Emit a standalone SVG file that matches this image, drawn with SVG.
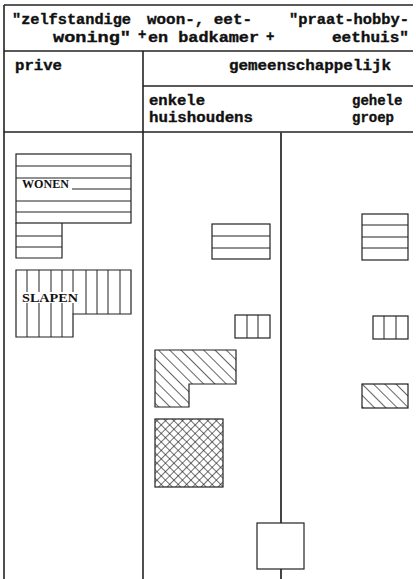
<svg xmlns="http://www.w3.org/2000/svg" width="416" height="579" viewBox="0 0 416 579">
<style>
.t{font-family:"Liberation Mono","DejaVu Sans Mono",monospace;font-weight:bold;font-size:14px;fill:#111;stroke:#111;stroke-width:0.35}
.s{font-family:"Liberation Serif","Times New Roman",serif;font-weight:bold;font-size:11.5px;fill:#111}
.f{stroke:#222;stroke-width:1.6;fill:none}
.m{stroke:#444;stroke-width:2;fill:none}
.b{stroke:#222;stroke-width:1.2;fill:none}
.l{stroke:#222;stroke-width:1;fill:none}
</style>
<defs>
<pattern id="diag" patternUnits="userSpaceOnUse" width="8" height="8" patternTransform="rotate(-45)">
<line x1="0" y1="0" x2="0" y2="8" stroke="#111" stroke-width="1.3"/>
</pattern>
<pattern id="cross" patternUnits="userSpaceOnUse" width="6" height="6" patternTransform="rotate(45)">
<line x1="0" y1="0" x2="0" y2="6" stroke="#111" stroke-width="1.2"/>
<line x1="0" y1="0" x2="6" y2="0" stroke="#111" stroke-width="1.2"/>
</pattern>
</defs>

<g id="frame">
<line class="f" x1="4" y1="5" x2="413" y2="5"/>
<line class="f" x1="4" y1="5" x2="4" y2="579"/>
<line class="f" x1="4" y1="51" x2="413" y2="51"/>
<line class="f" x1="143" y1="51" x2="143" y2="579"/>
<line class="f" x1="143" y1="86" x2="413" y2="86"/>
<line class="f" x1="4" y1="132" x2="413" y2="132"/>
</g>

<g id="header">
<text class="t" x="12" y="24" textLength="119" lengthAdjust="spacingAndGlyphs">"zelfstandige</text>
<text class="t" x="147" y="24" textLength="105" lengthAdjust="spacingAndGlyphs">woon-, eet-</text>
<text class="t" x="289" y="24" textLength="120" lengthAdjust="spacingAndGlyphs">"praat-hobby-</text>
<text class="t" x="53" y="42" textLength="78" lengthAdjust="spacingAndGlyphs">woning"</text>
<text class="t" x="138" y="39" font-size="11">+</text>
<text class="t" x="148" y="42" textLength="111" lengthAdjust="spacingAndGlyphs">en badkamer</text>
<text class="t" x="266" y="41" font-size="12">+</text>
<text class="t" x="332" y="42" textLength="77" lengthAdjust="spacingAndGlyphs">eethuis"</text>
</g>

<g id="prive"><text class="t" x="15" y="70" textLength="47" lengthAdjust="spacingAndGlyphs">prive</text></g>
<g id="gemeenschappelijk"><text class="t" x="229" y="70" textLength="162" lengthAdjust="spacingAndGlyphs">gemeenschappelijk</text></g>
<g id="enkele-huishoudens">
<text class="t" x="149" y="105" textLength="56" lengthAdjust="spacingAndGlyphs">enkele</text>
<text class="t" x="149" y="122" textLength="104" lengthAdjust="spacingAndGlyphs">huishoudens</text>
</g>
<g id="gehele-groep">
<text class="t" x="352" y="105">gehele</text>
<text class="t" x="352" y="122">groep</text>
</g>

<g id="connectors">
<line class="m" x1="281" y1="132" x2="281" y2="523"/>
<line class="m" x1="281" y1="569" x2="281" y2="579"/>
</g>

<g id="wonen">
<rect class="b" x="16" y="154" width="115" height="69"/>
<line class="l" x1="16" y1="166" x2="131" y2="166"/>
<line class="l" x1="16" y1="178" x2="131" y2="178"/>
<line class="l" x1="72" y1="189" x2="131" y2="189"/>
<line class="l" x1="16" y1="201" x2="131" y2="201"/>
<line class="l" x1="16" y1="212" x2="131" y2="212"/>
<path class="b" d="M16,223 V258 H62 V223"/>
<line class="l" x1="16" y1="236" x2="62" y2="236"/>
<line class="l" x1="16" y1="247" x2="62" y2="247"/>
<text class="s" x="22" y="188" textLength="47" lengthAdjust="spacingAndGlyphs">WONEN</text>
</g>

<g id="slapen">
<path class="b" d="M16,270 H131 V314 H73 V337 H16 Z"/>
<path class="l" d="M27,270 V337 M39,270 V337 M51,270 V337 M62,270 V337 M73,270 V314 M86,270 V314 M97,270 V314 M108,270 V314 M120,270 V314"/>
<rect x="21" y="292" width="58" height="11" fill="#fff"/>
<text class="s" x="22" y="302" textLength="56" lengthAdjust="spacingAndGlyphs">SLAPEN</text>
</g>

<g id="enkel-wonen">
<rect class="b" x="212" y="224" width="58" height="35"/>
<line class="l" x1="212" y1="236" x2="270" y2="236"/>
<line class="l" x1="212" y1="248" x2="270" y2="248"/>
</g>
<g id="enkel-slapen">
<rect class="b" x="235" y="315" width="35" height="23"/>
<line class="l" x1="247" y1="315" x2="247" y2="338"/>
<line class="l" x1="258" y1="315" x2="258" y2="338"/>
</g>
<g id="enkel-diag">
<path d="M155,350 H236 V384 H189 V407 H155 Z" fill="url(#diag)" stroke="#222" stroke-width="1.2"/>
</g>
<g id="enkel-cross">
<rect x="155" y="419" width="68" height="68" fill="url(#cross)" stroke="#222" stroke-width="1.2"/>
</g>

<g id="groep-wonen">
<rect class="b" x="362" y="214" width="46" height="46"/>
<line class="l" x1="362" y1="225" x2="408" y2="225"/>
<line class="l" x1="362" y1="237" x2="408" y2="237"/>
<line class="l" x1="362" y1="248" x2="408" y2="248"/>
</g>
<g id="groep-slapen">
<rect class="b" x="373" y="316" width="35" height="23"/>
<line class="l" x1="384" y1="316" x2="384" y2="339"/>
<line class="l" x1="396" y1="316" x2="396" y2="339"/>
</g>
<g id="groep-diag">
<rect x="362" y="384" width="46" height="24" fill="url(#diag)" stroke="#222" stroke-width="1.2"/>
</g>

<g id="box">
<rect class="b" x="257" y="523" width="47" height="46" stroke-width="1.5"/>
</g>
</svg>
